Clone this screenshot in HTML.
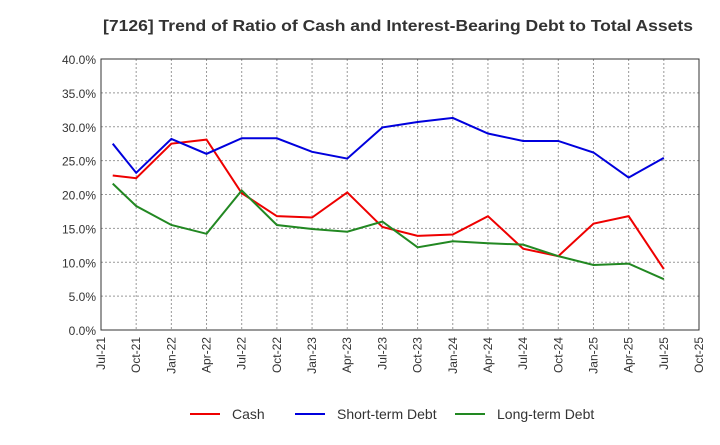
<!DOCTYPE html>
<html><head><meta charset="utf-8"><style>
body{margin:0;background:#fff;font-family:"Liberation Sans",sans-serif;}
svg text{font-family:"Liberation Sans",sans-serif;}
</style></head><body>
<svg id="chart" width="720" height="440" xmlns="http://www.w3.org/2000/svg">
<text x="103" y="31" font-size="16" font-weight="bold" fill="#333" textLength="590" lengthAdjust="spacingAndGlyphs">[7126]  Trend of Ratio of Cash and Interest-Bearing Debt to Total Assets</text>
<g id="grid"></g>
<g id="axes"></g>
<g id="series"></g>
<g id="legend"></g>
</svg>
<script>
const xTickLabels=["Jul-21","Oct-21","Jan-22","Apr-22","Jul-22","Oct-22","Jan-23","Apr-23","Jul-23","Oct-23","Jan-24","Apr-24","Jul-24","Oct-24","Jan-25","Apr-25","Jul-25","Oct-25"];
const yTicks=[0,5,10,15,20,25,30,35,40];
const months=[1,3,6,9,12,15,18,21,24,27,30,33,36,39,42,45,48];
const cash=[22.8,22.4,27.5,28.1,20.2,16.8,16.6,20.3,15.2,13.9,14.1,16.8,12.0,10.9,15.7,16.8,9.0];
const shortDebt=[27.5,23.2,28.2,26.0,28.3,28.3,26.3,25.3,29.9,30.7,31.3,29.0,27.9,27.9,26.2,22.5,25.4];
const longDebt=[21.6,18.3,15.5,14.2,20.6,15.5,14.9,14.5,16.0,12.2,13.1,12.8,12.6,10.9,9.6,9.8,7.5];
const seriesNames=["Cash","Short-term Debt","Long-term Debt"];
const NS="http://www.w3.org/2000/svg";
const L=101,R=699,T=59,B=330;
const xs=m=>L+(R-L)*m/51;
const ys=v=>B-(B-T)*v/40;
function mk(tag,attrs,parent,text){const e=document.createElementNS(NS,tag);for(const k in attrs)e.setAttribute(k,attrs[k]);if(text!==undefined)e.textContent=text;parent.appendChild(e);return e;}
const grid=document.getElementById('grid'),axes=document.getElementById('axes'),ser=document.getElementById('series'),leg=document.getElementById('legend');
for(let m=0;m<=51;m+=3){const g=mk('line',{x1:xs(m),x2:xs(m),y1:T,y2:B,stroke:'#999','stroke-dasharray':'2,2','stroke-width':1},grid);}
yTicks.forEach(v=>{const g=mk('line',{x1:L,x2:R,y1:ys(v),y2:ys(v),stroke:'#999','stroke-dasharray':'2,2','stroke-width':1},grid);
const t=mk('text',{x:L-5,y:ys(v)+5,'text-anchor':'end','font-size':12,fill:'#333'},axes,v.toFixed(1)+'%');});
const fr=mk('rect',{x:L,y:T,width:R-L,height:B-T,fill:'none',stroke:'#333'},axes);
xTickLabels.forEach((s,i)=>{const x=xs(i*3);const t=mk('text',{x:x+4,y:B+7,'text-anchor':'end','font-size':12,fill:'#333',transform:`rotate(-90 ${x+4} ${B+7})`},axes,s);});
const colors=["#ee0000","#0000dd","#228822"];
[cash,shortDebt,longDebt].forEach((d,si)=>{const p=mk('polyline',{points:d.map((v,i)=>xs(months[i])+','+ys(v)).join(' '),fill:'none',stroke:colors[si],'stroke-width':2},ser);});
const lx=[190,295,455];
seriesNames.forEach((n,i)=>{const g=mk('g',{},leg);
mk('line',{x1:lx[i],x2:lx[i]+30,y1:414,y2:414,stroke:colors[i],'stroke-width':2},g);mk('text',{x:lx[i]+42,y:419,'font-size':14,fill:'#333'},g,n);});
</script>
</body></html>
